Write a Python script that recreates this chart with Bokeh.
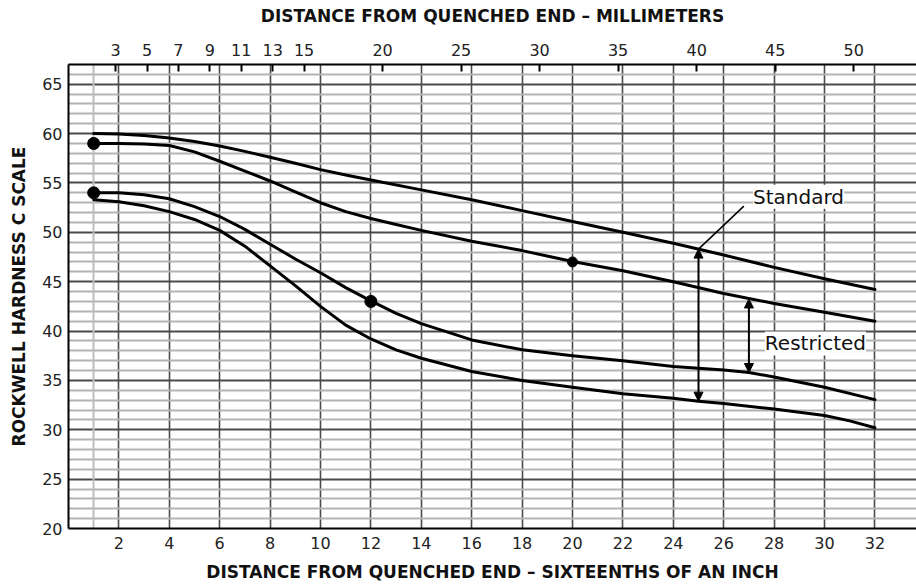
from bokeh.plotting import figure
from bokeh.models import (Range1d, LinearAxis, FixedTicker, Grid, Arrow, NormalHead, Label)
from bokeh.embed import file_html
from bokeh.resources import INLINE

# ---- data ----
std_max_x = [1, 2, 3, 4, 5, 6, 7, 8, 9, 10, 11, 12, 14, 16, 18, 20, 22, 24, 26, 28, 30, 32]
std_max_y = [60.0, 59.95, 59.8, 59.55, 59.2, 58.75, 58.2, 57.6, 57.0, 56.35, 55.8, 55.3, 54.3, 53.3,
             52.2, 51.1, 50.0, 48.9, 47.7, 46.45, 45.3, 44.2]

res_max_x = [1, 2, 3, 4, 5, 6, 7, 8, 9, 10, 11, 12, 13, 14, 16, 18, 20, 22, 24, 26, 28, 30, 32]
res_max_y = [59.0, 59.0, 58.95, 58.8, 58.15, 57.2, 56.2, 55.2, 54.1, 53.0, 52.1, 51.4, 50.8, 50.2,
             49.1, 48.15, 47.05, 46.1, 45.0, 43.8, 42.8, 41.9, 41.0]

res_min_x = [1, 2, 3, 4, 5, 6, 7, 8, 9, 10, 11, 12, 13, 14, 16, 18, 20, 22, 24, 26, 27, 28, 30, 32]
res_min_y = [54.0, 54.0, 53.8, 53.4, 52.6, 51.6, 50.3, 48.8, 47.3, 45.9, 44.4, 43.05, 41.8, 40.75,
             39.1, 38.1, 37.5, 37.0, 36.4, 36.05, 35.8, 35.35, 34.3, 33.05]

std_min_x = [1, 2, 3, 4, 5, 6, 7, 8, 9, 10, 11, 12, 13, 14, 16, 18, 20, 22, 24, 25, 26, 28, 30, 31, 32]
std_min_y = [53.3, 53.1, 52.7, 52.1, 51.3, 50.2, 48.6, 46.6, 44.6, 42.5, 40.6, 39.2, 38.1, 37.25,
             35.9, 35.0, 34.3, 33.65, 33.2, 32.9, 32.65, 32.1, 31.45, 30.9, 30.2]

dot_x = [1, 1, 12, 20]
dot_y = [59, 54, 43, 47]
dot_size = [12, 12, 12, 10]

bottom_ticks = [2, 4, 6, 8, 10, 12, 14, 16, 18, 20, 22, 24, 26, 28, 30, 32]
top_ticks_mm = [3, 5, 7, 9, 11, 13, 15, 20, 25, 30, 35, 40, 45, 50]
y_major = [20, 25, 30, 35, 40, 45, 50, 55, 60, 65]
y_minor = [v for v in range(20, 67) if v % 5 != 0]

# annotation anchors
std_arrow = dict(x=25, top=48.3, bottom=32.9)
res_arrow = dict(x=27, top=43.25, bottom=35.8)
leader_x = [25, 26.8]
leader_y = [48.3, 52.65]
std_label = dict(x=28.97, y=53.6, text="Standard")
res_label = dict(x=29.64, y=38.75, text="Restricted")

FONT = "DejaVu Sans"

p = figure(width=916, height=584, x_range=Range1d(0, 33.65), y_range=Range1d(20, 67.0),
           output_backend="svg", toolbar_location=None,
           min_border_left=68, min_border_right=0, min_border_top=64, min_border_bottom=56)
p.extra_x_ranges = {"mm": Range1d(0, 54.0)}
p.background_fill_color = "white"
p.outline_line_color = None

# axes
for ax in (p.xaxis[0], p.yaxis[0]):
    ax.major_label_text_font = FONT
    ax.major_label_text_font_size = "16px"
    ax.major_label_text_color = "#222222"
    ax.axis_label_text_font = FONT
    ax.axis_label_text_font_size = "17px"
    ax.axis_label_text_font_style = "bold"
    ax.axis_label_text_color = "#111111"
    ax.major_tick_in = 0
    ax.major_tick_out = 0
    ax.minor_tick_in = 0
    ax.minor_tick_out = 0
    ax.axis_line_color = "black"
    ax.axis_line_width = 2

p.xaxis[0].ticker = FixedTicker(ticks=bottom_ticks)
p.xaxis[0].axis_label = "DISTANCE FROM QUENCHED END \u2013 SIXTEENTHS OF AN INCH"
p.xaxis[0].major_label_standoff = 8
p.xaxis[0].axis_label_standoff = 10

p.yaxis[0].ticker = FixedTicker(ticks=y_major)
p.yaxis[0].axis_label = "ROCKWELL HARDNESS C SCALE"
p.yaxis[0].major_label_standoff = 6
p.yaxis[0].axis_label_standoff = 10

top = LinearAxis(x_range_name="mm", ticker=FixedTicker(ticks=top_ticks_mm),
                 axis_label="DISTANCE FROM QUENCHED END \u2013 MILLIMETERS")
top.major_label_text_font = FONT
top.major_label_text_font_size = "16px"
top.major_label_text_color = "#222222"
top.axis_label_text_font = FONT
top.axis_label_text_font_size = "17px"
top.axis_label_text_font_style = "bold"
top.axis_label_text_color = "#111111"
top.major_tick_in = 7
top.major_tick_out = 0
top.major_tick_line_width = 2
top.major_tick_line_color = "black"
top.minor_tick_in = 0
top.minor_tick_out = 0
top.axis_line_color = "black"
top.axis_line_width = 2
top.major_label_standoff = 9
top.axis_label_standoff = 15
p.add_layout(top, "above")

# grids
p.xgrid[0].ticker = FixedTicker(ticks=bottom_ticks)
p.xgrid[0].grid_line_color = "#4a4a4a"
p.xgrid[0].grid_line_width = 1.6
p.ygrid[0].ticker = FixedTicker(ticks=y_major, minor_ticks=y_minor)
p.ygrid[0].grid_line_color = "#4a4a4a"
p.ygrid[0].grid_line_width = 2
p.ygrid[0].minor_grid_line_color = "#b3b3b3"
p.ygrid[0].minor_grid_line_width = 2
g1 = Grid(dimension=0, ticker=FixedTicker(ticks=[1]), grid_line_color="#bdbdbd", grid_line_width=2)
p.add_layout(g1)

# curves
for xs, ys in [(std_max_x, std_max_y), (res_max_x, res_max_y), (res_min_x, res_min_y), (std_min_x, std_min_y)]:
    p.line(xs, ys, line_color="black", line_width=3, line_join="round", line_cap="round")

p.scatter(dot_x, dot_y, size=dot_size, fill_color="black", line_color="black")

# annotations
p.line(leader_x, leader_y, line_color="black", line_width=1.5)
for a in (std_arrow, res_arrow):
    p.add_layout(Arrow(start=NormalHead(size=9, fill_color="black", line_color="black"),
                       end=NormalHead(size=9, fill_color="black", line_color="black"),
                       x_start=a["x"], y_start=a["top"], x_end=a["x"], y_end=a["bottom"],
                       line_color="black", line_width=2))
for lb in (std_label, res_label):
    p.add_layout(Label(x=lb["x"], y=lb["y"], text=lb["text"], text_align="center",
                       text_baseline="middle", text_font=FONT, text_font_size="20px",
                       text_color="#111111", background_fill_color="white"))

open("out.html", "w").write(file_html(p, INLINE))
